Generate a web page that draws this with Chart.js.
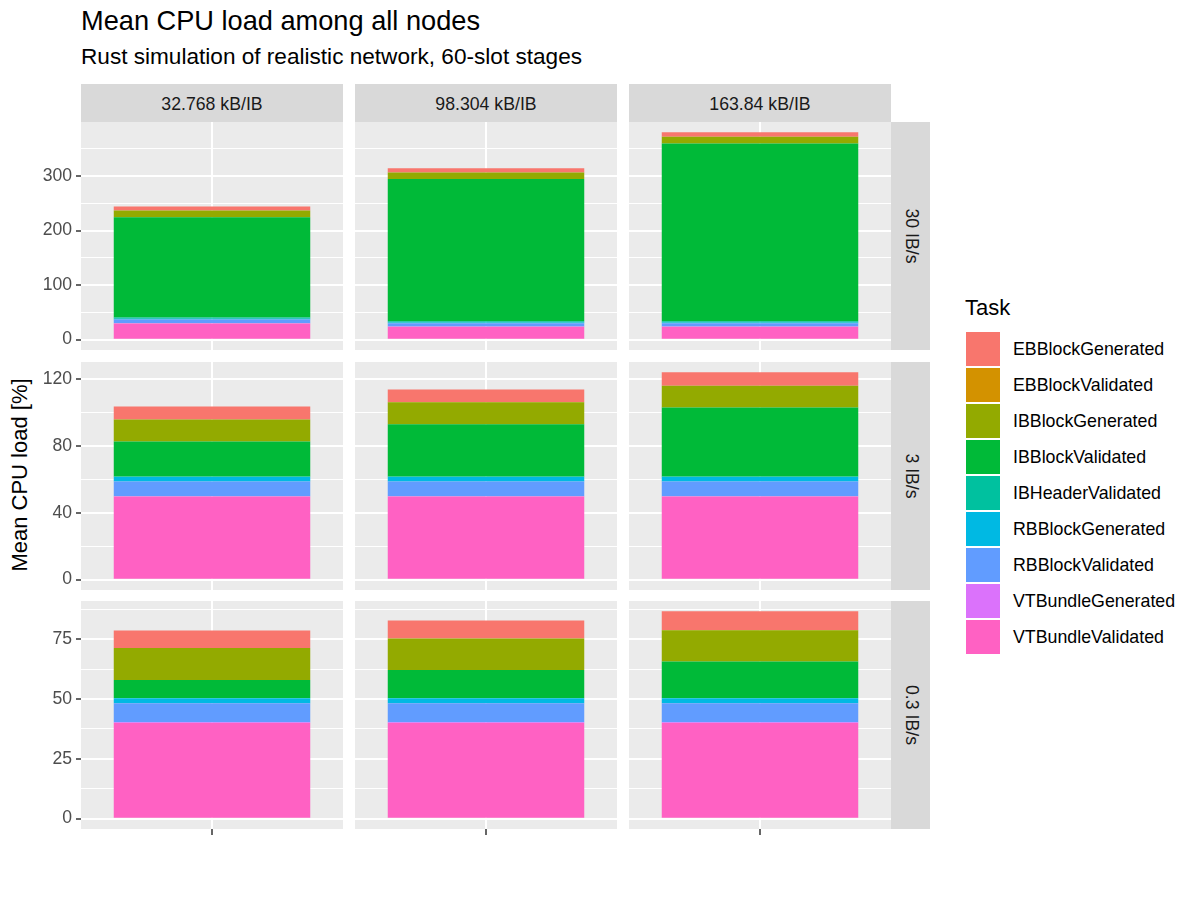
<!DOCTYPE html>
<html>
<head>
<meta charset="utf-8">
<title>Mean CPU load among all nodes</title>
<script src="https://cdn.jsdelivr.net/npm/chart.js@4.4.1/dist/chart.umd.min.js"></script>
<style>
  body { margin: 0; background: #fff; font-family: "Liberation Sans", Arial, sans-serif; }
  #page { position: relative; width: 1200px; height: 900px; overflow: hidden; }
  .abs { position: absolute; white-space: nowrap; }
  #title { left: 81px; top: 7px; font-size: 27.2px; line-height: 1; color: #000; }
  #subtitle { left: 81px; top: 46px; font-size: 22.6px; line-height: 1; color: #000; }
  .strip { background: #D9D9D9; color: #1A1A1A; font-size: 17.7px; text-align: center; }
  .rstrip span { position: absolute; left: 50%; top: 50%; transform: translate(-50%, -50%) rotate(90deg); }
  #ytitle { left: 20px; top: 475px; font-size: 22px; transform: translate(-50%, -50%) rotate(-90deg); color: #000; }
  #legtitle { left: 965px; top: 297px; font-size: 22px; line-height: 1; color: #000; }
  .key { width: 34px; height: 34px; }
  .keylab { font-size: 17.8px; line-height: 1; color: #000; }
</style>
</head>
<body>
<div id="page">
  <div id="title" class="abs">Mean CPU load among all nodes</div>
  <div id="subtitle" class="abs">Rust simulation of realistic network, 60-slot stages</div>
  <div id="ytitle" class="abs">Mean CPU load [%]</div>
  <div id="legtitle" class="abs">Task</div>
</div>
<script>
// facets: columns = IB size, rows = IB rate
const colLabels = ['32.768 kB/IB', '98.304 kB/IB', '163.84 kB/IB'];
const rowLabels = ['30 IB/s', '3 IB/s', '0.3 IB/s'];

// legend order (top of stack first), ggplot hue colours
const tasks = ['EBBlockGenerated', 'EBBlockValidated', 'IBBlockGenerated', 'IBBlockValidated',
  'IBHeaderValidated', 'RBBlockGenerated', 'RBBlockValidated', 'VTBundleGenerated', 'VTBundleValidated'];
const taskColors = ['#F8766D', '#D39200', '#93AA00', '#00BA38', '#00C19F', '#00B9E3', '#619CFF', '#DB72FB', '#FF61C3'];

// values per facet, row by row: [30 IB/s x 3 sizes, 3 IB/s x 3 sizes, 0.3 IB/s x 3 sizes]
const EBBlockGenerated  = [7.3, 7.4, 7.9,   7.8, 7.6, 8.0,    7.3, 7.5, 7.8];
const EBBlockValidated  = [0.1, 0.1, 0.1,   0.05, 0.05, 0.05, 0.05, 0.05, 0.05];
const IBBlockGenerated  = [12.3, 12.2, 12.3, 13.2, 13.2, 13.0, 13.4, 13.2, 13.1];
const IBBlockValidated  = [184, 260.6, 326,  21, 31.4, 41.4,  7.6, 11.8, 15.4];
const IBHeaderValidated = [2.2, 2.2, 2.2,   0.2, 0.2, 0.2,    0.02, 0.02, 0.02];
const RBBlockGenerated  = [1.5, 1.5, 1.5,   2.8, 2.8, 2.8,    2.0, 2.0, 2.0];
const RBBlockValidated  = [6.7, 6.0, 6.0,   8.8, 8.8, 8.8,    8.0, 8.0, 8.0];
const VTBundleGenerated = [0.3, 0.3, 0.3,   0.2, 0.2, 0.2,    0.3, 0.3, 0.3];
const VTBundleValidated = [29.7, 23.6, 23.6, 49.8, 49.8, 49.8, 40.0, 40.0, 40.0];

// y ticks per row (major get labels, minor only gridlines)
const majorTicks = [[0, 100, 200, 300], [0, 40, 80, 120], [0, 25, 50, 75]];
const minorTicks = [[50, 150, 250, 350], [20, 60, 100], [12.5, 37.5, 62.5, 87.5]];

const taskValues = {
  EBBlockGenerated, EBBlockValidated, IBBlockGenerated, IBBlockValidated, IBHeaderValidated,
  RBBlockGenerated, RBBlockValidated, VTBundleGenerated, VTBundleValidated
};

// layout of the panels
const panelLeft = [81, 355, 629];
const panelTop = [122, 362, 601];
const panelW = 262, panelH = 228;
const page = document.getElementById('page');

function addDiv(cls, css, html) {
  const d = document.createElement('div');
  d.className = 'abs ' + cls;
  Object.assign(d.style, css);
  d.innerHTML = html;
  page.appendChild(d);
  return d;
}

// strips
colLabels.forEach(function(lab, c) {
  addDiv('strip', { left: panelLeft[c] + 'px', top: '84px', width: panelW + 'px', height: '38px', lineHeight: '41px' }, lab);
});
rowLabels.forEach(function(lab, r) {
  addDiv('strip rstrip', { left: '891px', top: panelTop[r] + 'px', width: '39px', height: panelH + 'px' }, '<span>' + lab + '</span>');
});

// legend
tasks.forEach(function(t, i) {
  const y = 332 + i * 36;
  addDiv('key', { left: '966px', top: y + 'px', background: taskColors[i] }, '');
  addDiv('keylab', { left: '1013px', top: (y + 9) + 'px' }, t);
});

const panelBg = {
  id: 'panelBg',
  beforeDraw(chart) {
    const a = chart.chartArea, ctx = chart.ctx;
    ctx.save();
    ctx.fillStyle = '#EBEBEB';
    ctx.fillRect(a.left, a.top, a.right - a.left, a.bottom - a.top);
    ctx.restore();
  }
};

function rowMax(r) {
  let m = 0;
  for (let c = 0; c < 3; c++) {
    let s = 0;
    tasks.forEach(function(t) { s += taskValues[t][r * 3 + c]; });
    m = Math.max(m, s);
  }
  return m;
}

for (let r = 0; r < 3; r++) {
  const top = rowMax(r);
  const majors = new Set(majorTicks[r]);
  const allTicks = majorTicks[r].concat(minorTicks[r]).sort(function(a, b) { return a - b; });
  for (let c = 0; c < 3; c++) {
    const first = c === 0, last = r === 2;
    const axisW = first ? 81 : 0;
    const axisH = last ? 6 : 0;
    const w = panelW + axisW, h = panelH + axisH;

    const holder = addDiv('', { left: (panelLeft[c] - axisW) + 'px', top: panelTop[r] + 'px', width: w + 'px', height: h + 'px' }, '');
    const cv = document.createElement('canvas');
    cv.width = w; cv.height = h;
    holder.appendChild(cv);

    // stack bottom-up: last legend entry at the bottom
    const datasets = tasks.slice().reverse().map(function(t) {
      const i = tasks.indexOf(t);
      return {
        label: t,
        data: [taskValues[t][r * 3 + c]],
        backgroundColor: taskColors[i],
        borderWidth: 0,
        barPercentage: 0.75,
        categoryPercentage: 1.0,
        stack: 's'
      };
    });

    new Chart(cv, {
      type: 'bar',
      data: { labels: [''], datasets: datasets },
      options: {
        responsive: false,
        animation: false,
        layout: { padding: 0, autoPadding: false },
        plugins: { legend: { display: false }, tooltip: { enabled: false } },
        scales: {
          x: {
            stacked: true,
            offset: true,
            grid: { offset: false, color: '#FFFFFF', lineWidth: 2, drawTicks: last, tickLength: 6, tickColor: '#333333', tickWidth: 1.5 },
            border: { display: false },
            ticks: { display: false },
            afterFit: function(s) { s.height = axisH; s.paddingLeft = 0; s.paddingRight = 0; }
          },
          y: {
            stacked: true,
            min: -0.05 * top,
            max: 1.05 * top,
            afterBuildTicks: function(s) { s.ticks = allTicks.map(function(v) { return { value: v }; }); },
            grid: {
              color: '#FFFFFF',
              lineWidth: function(ctx) { return ctx.tick && majors.has(ctx.tick.value) ? 2 : 1; },
              drawTicks: first,
              tickLength: 5,
              tickWidth: 1.5,
              tickColor: function(ctx) { return ctx.tick && majors.has(ctx.tick.value) ? '#333333' : 'rgba(0,0,0,0)'; }
            },
            border: { display: false },
            ticks: {
              display: first,
              autoSkip: false,
              padding: 4,
              color: '#4D4D4D',
              font: { family: '"Liberation Sans", Arial, sans-serif', size: 17.6 },
              callback: function(v) { return majors.has(v) ? String(v) : ''; }
            },
            afterFit: function(s) { s.width = axisW; s.paddingTop = 0; s.paddingBottom = 0; }
          }
        }
      },
      plugins: [panelBg]
    });
  }
}
</script>
</body>
</html>
